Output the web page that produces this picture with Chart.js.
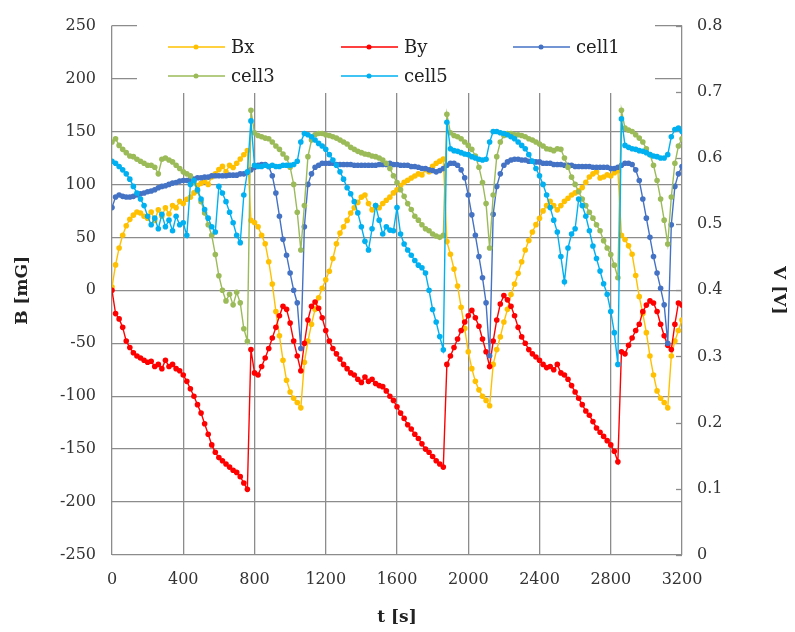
<!DOCTYPE html>
<html>
<head>
<meta charset="utf-8">
<script src="https://cdn.jsdelivr.net/npm/chart.js@4.4.1/dist/chart.umd.min.js"></script>
<style>
  html, body { margin: 0; padding: 0; background: #fff; }
  canvas { display: block; }
</style>
</head>
<body>
<canvas id="chart" width="795" height="632"></canvas>
<script>
// time [s]
const t = [
  0, 20, 40, 60, 80, 100, 120, 140, 160, 180,
  200, 220, 240, 260, 280, 300, 320, 340, 360, 380,
  400, 420, 440, 460, 480, 500, 520, 540, 560, 580,
  600, 620, 640, 660, 680, 700, 720, 740, 760, 780,
  800, 820, 840, 860, 880, 900, 920, 940, 960, 980,
  1000, 1020, 1040, 1060, 1080, 1100, 1120, 1140, 1160, 1180,
  1200, 1220, 1240, 1260, 1280, 1300, 1320, 1340, 1360, 1380,
  1400, 1420, 1440, 1460, 1480, 1500, 1520, 1540, 1560, 1580,
  1600, 1620, 1640, 1660, 1680, 1700, 1720, 1740, 1760, 1780,
  1800, 1820, 1840, 1860, 1880, 1900, 1920, 1940, 1960, 1980,
  2000, 2020, 2040, 2060, 2080, 2100, 2120, 2140, 2160, 2180,
  2200, 2220, 2240, 2260, 2280, 2300, 2320, 2340, 2360, 2380,
  2400, 2420, 2440, 2460, 2480, 2500, 2520, 2540, 2560, 2580,
  2600, 2620, 2640, 2660, 2680, 2700, 2720, 2740, 2760, 2780,
  2800, 2820, 2840, 2860, 2880, 2900, 2920, 2940, 2960, 2980,
  3000, 3020, 3040, 3060, 3080, 3100, 3120, 3140, 3160, 3180,
  3200
];

// B [mG]
const bx = [
  3, 24, 40, 52, 61, 67, 71, 74, 73, 70,
  68, 74, 66, 76, 70, 78, 72, 80, 78, 84,
  82, 86, 88, 92, 99, 101, 103, 100, 107, 110,
  114, 117, 112, 118, 116, 120, 124, 128, 132, 66,
  64, 60, 52, 44, 27, 6, -20, -43, -66, -85,
  -96, -102, -106, -111, -68, -48, -32, -18, -7, 2,
  10, 18, 30, 44, 54, 60, 66, 73, 78, 83,
  88, 90, 82, 76, 80, 78, 82, 85, 88, 92,
  95, 99, 102, 104, 106, 108, 110, 109, 114, 112,
  117, 120, 122, 124, 46, 34, 20, 4, -16, -36,
  -58, -74, -86, -94, -100, -104, -109, -70, -56, -44,
  -30, -18, -4, 6, 16, 27, 38, 47, 55, 62,
  68, 75, 80, 84, 80, 76, 80, 84, 87, 90,
  92, 94, 97, 102, 107, 110, 112, 106, 107, 109,
  108, 111, 113, 52, 48, 42, 34, 14, -6, -22,
  -40, -62, -80, -95, -102, -106, -111, -62, -48, -38,
  -28
];

const by = [
  0, -22, -27, -35, -48, -54, -59, -62, -64, -66,
  -68, -67, -72, -70, -74, -66, -72, -70, -74, -76,
  -80, -86, -93, -100, -108, -116, -126, -136, -146, -153,
  -158, -161, -164, -167, -170, -172, -176, -182, -188, -56,
  -78, -80, -72, -64, -55, -45, -35, -24, -15, -18,
  -31, -48, -62, -76, -50, -28, -15, -11, -17, -26,
  -38, -48, -55, -60, -65, -70, -74, -78, -80, -84,
  -87, -82, -86, -84, -88, -90, -91, -95, -100, -104,
  -110, -116, -121, -127, -131, -136, -140, -145, -150, -153,
  -157, -161, -164, -167, -70, -62, -54, -46, -38, -30,
  -24, -19, -26, -34, -46, -58, -72, -48, -28, -13,
  -5, -9, -15, -24, -35, -44, -50, -56, -60, -63,
  -66, -70, -73, -72, -75, -70, -78, -80, -84, -90,
  -96, -102, -108, -114, -118, -124, -130, -134, -138, -142,
  -146, -152, -162, -58, -60, -52, -45, -38, -32, -20,
  -14, -10, -12, -20, -32, -43, -52, -56, -32, -12,
  -14
];

// V [V]
const cell1 = [
  0.525, 0.541, 0.544, 0.542, 0.541, 0.541, 0.542, 0.544, 0.546, 0.547,
  0.549, 0.550, 0.552, 0.555, 0.557, 0.558, 0.560, 0.562, 0.563, 0.565,
  0.566, 0.566, 0.568, 0.568, 0.570, 0.570, 0.571, 0.571, 0.573, 0.573,
  0.573, 0.573, 0.573, 0.574, 0.574, 0.574, 0.576, 0.576, 0.578, 0.582,
  0.586, 0.589, 0.590, 0.590, 0.587, 0.573, 0.547, 0.512, 0.477, 0.453,
  0.426, 0.400, 0.381, 0.312, 0.496, 0.560, 0.576, 0.586, 0.589, 0.592,
  0.592, 0.592, 0.592, 0.590, 0.590, 0.590, 0.590, 0.590, 0.589, 0.589,
  0.589, 0.589, 0.589, 0.589, 0.589, 0.590, 0.590, 0.590, 0.592, 0.590,
  0.590, 0.589, 0.589, 0.589, 0.587, 0.587, 0.586, 0.584, 0.584, 0.582,
  0.581, 0.579, 0.581, 0.584, 0.589, 0.592, 0.592, 0.589, 0.582, 0.570,
  0.544, 0.514, 0.483, 0.451, 0.419, 0.381, 0.301, 0.515, 0.557, 0.576,
  0.589, 0.594, 0.597, 0.598, 0.598, 0.597, 0.597, 0.595, 0.595, 0.594,
  0.594, 0.592, 0.592, 0.592, 0.590, 0.590, 0.590, 0.589, 0.589, 0.589,
  0.587, 0.587, 0.587, 0.587, 0.587, 0.586, 0.586, 0.586, 0.586, 0.586,
  0.584, 0.584, 0.586, 0.589, 0.592, 0.592, 0.590, 0.582, 0.566, 0.538,
  0.509, 0.480, 0.451, 0.426, 0.403, 0.378, 0.320, 0.499, 0.557, 0.576,
  0.587
];

const cell3 = [
  0.624, 0.629, 0.619, 0.613, 0.608, 0.603, 0.602, 0.598, 0.595, 0.592,
  0.589, 0.589, 0.586, 0.576, 0.598, 0.600, 0.597, 0.594, 0.589, 0.584,
  0.579, 0.576, 0.573, 0.563, 0.550, 0.534, 0.517, 0.499, 0.483, 0.454,
  0.422, 0.400, 0.384, 0.394, 0.378, 0.397, 0.381, 0.342, 0.323, 0.672,
  0.638, 0.634, 0.632, 0.630, 0.629, 0.624, 0.618, 0.613, 0.606, 0.600,
  0.586, 0.560, 0.518, 0.461, 0.528, 0.602, 0.627, 0.635, 0.637, 0.637,
  0.635, 0.634, 0.632, 0.630, 0.627, 0.624, 0.621, 0.616, 0.613, 0.610,
  0.608, 0.606, 0.605, 0.603, 0.602, 0.600, 0.597, 0.592, 0.584, 0.573,
  0.563, 0.552, 0.542, 0.531, 0.522, 0.512, 0.506, 0.499, 0.493, 0.490,
  0.485, 0.482, 0.480, 0.483, 0.666, 0.638, 0.634, 0.632, 0.629, 0.624,
  0.619, 0.613, 0.603, 0.586, 0.563, 0.531, 0.464, 0.544, 0.602, 0.624,
  0.634, 0.637, 0.637, 0.635, 0.635, 0.634, 0.632, 0.629, 0.627, 0.624,
  0.621, 0.618, 0.614, 0.613, 0.611, 0.614, 0.613, 0.600, 0.586, 0.571,
  0.560, 0.549, 0.538, 0.528, 0.518, 0.509, 0.499, 0.490, 0.475, 0.464,
  0.454, 0.438, 0.419, 0.672, 0.645, 0.642, 0.640, 0.635, 0.630, 0.624,
  0.614, 0.605, 0.589, 0.566, 0.538, 0.506, 0.470, 0.541, 0.592, 0.618,
  0.629
];

const cell5 = [
  0.595, 0.592, 0.587, 0.582, 0.576, 0.568, 0.557, 0.547, 0.538, 0.528,
  0.512, 0.499, 0.509, 0.493, 0.515, 0.496, 0.506, 0.490, 0.512, 0.499,
  0.502, 0.483, 0.560, 0.566, 0.552, 0.538, 0.522, 0.509, 0.496, 0.488,
  0.557, 0.547, 0.534, 0.518, 0.502, 0.483, 0.472, 0.544, 0.579, 0.656,
  0.589, 0.587, 0.587, 0.589, 0.587, 0.589, 0.587, 0.587, 0.589, 0.589,
  0.589, 0.590, 0.595, 0.624, 0.637, 0.635, 0.632, 0.627, 0.622, 0.618,
  0.613, 0.605, 0.597, 0.589, 0.579, 0.568, 0.555, 0.546, 0.534, 0.517,
  0.496, 0.474, 0.461, 0.493, 0.528, 0.506, 0.485, 0.496, 0.491, 0.490,
  0.525, 0.485, 0.470, 0.461, 0.453, 0.445, 0.438, 0.434, 0.426, 0.400,
  0.371, 0.352, 0.330, 0.310, 0.654, 0.614, 0.611, 0.610, 0.608, 0.606,
  0.605, 0.602, 0.600, 0.598, 0.597, 0.598, 0.624, 0.640, 0.640, 0.638,
  0.637, 0.635, 0.632, 0.629, 0.624, 0.619, 0.614, 0.605, 0.595, 0.584,
  0.573, 0.560, 0.544, 0.525, 0.506, 0.488, 0.451, 0.413, 0.464, 0.485,
  0.493, 0.538, 0.528, 0.512, 0.490, 0.467, 0.448, 0.429, 0.410, 0.394,
  0.368, 0.336, 0.288, 0.659, 0.619, 0.616, 0.614, 0.613, 0.611, 0.610,
  0.608, 0.605, 0.603, 0.602, 0.600, 0.600, 0.605, 0.632, 0.643, 0.645,
  0.640
];

const FONT = '"DejaVu Serif", "Liberation Serif", serif';
const GRID = '#8c8c8c';
const TEXT = '#333333';

function pts(vals) {
  return t.map((x, i) => ({ x: x, y: vals[i] }));
}

function series(label, vals, color, axis, order) {
  return {
    label: label,
    data: pts(vals),
    borderColor: color,
    backgroundColor: color,
    borderWidth: 1.4,
    pointRadius: 2.8,
    pointHoverRadius: 2.8,
    pointBorderWidth: 0,
    tension: 0,
    yAxisID: axis,
    order: order
  };
}

// legend drawn inside the plot, on a white box, plus inner ticks of the right axis
const insideLegend = {
  id: 'insideLegend',
  beforeDatasetsDraw(chart) {
    const ctx = chart.ctx;
    const area = chart.chartArea;
    ctx.save();
    ctx.fillStyle = '#ffffff';
    ctx.fillRect(137, 23, 518, 70);
    const cols = [168, 341, 513];
    const rows = [47, 76];
    ctx.font = '18px ' + FONT;
    ctx.textBaseline = 'middle';
    chart.data.datasets.forEach((ds, i) => {
      const x = cols[i % 3];
      const y = rows[Math.floor(i / 3)];
      ctx.strokeStyle = ds.borderColor;
      ctx.lineWidth = 1.5;
      ctx.beginPath();
      ctx.moveTo(x, y);
      ctx.lineTo(x + 57, y);
      ctx.stroke();
      ctx.fillStyle = ds.borderColor;
      ctx.beginPath();
      ctx.arc(x + 28, y, 2.5, 0, Math.PI * 2);
      ctx.fill();
      ctx.fillStyle = '#222222';
      ctx.fillText(ds.label, x + 63, y + 1);
    });
    const y2 = chart.scales.y2;
    ctx.strokeStyle = GRID;
    ctx.lineWidth = 1.3;
    y2.ticks.forEach(tk => {
      const py = Math.round(y2.getPixelForValue(tk.value)) + 0.5;
      ctx.beginPath();
      ctx.moveTo(area.right - 6, py);
      ctx.lineTo(area.right, py);
      ctx.stroke();
    });
    ctx.restore();
  }
};

const tickFont = { family: FONT, size: 16 };
const titleFont = { family: FONT, size: 17, weight: 'bold' };

new Chart(document.getElementById('chart').getContext('2d'), {
  type: 'line',
  data: {
    datasets: [
      series('Bx', bx, '#FFC000', 'y', 5),
      series('By', by, '#FF0000', 'y', 4),
      series('cell1', cell1, '#4472C4', 'y2', 3),
      series('cell3', cell3, '#9BBB59', 'y2', 2),
      series('cell5', cell5, '#00B0F0', 'y2', 1)
    ]
  },
  options: {
    responsive: false,
    animation: false,
    layout: { padding: { top: 19, left: 0, right: 0, bottom: 0 } },
    plugins: {
      legend: { display: false },
      tooltip: { enabled: false }
    },
    scales: {
      x: {
        type: 'linear',
        min: 0,
        max: 3200,
        ticks: { stepSize: 400, autoSkip: false, maxRotation: 0, padding: 15, font: tickFont, color: TEXT,
                 callback: v => String(v) },
        grid: { color: GRID, lineWidth: 1.3, drawTicks: false },
        border: { display: false },
        title: { display: true, text: 't [s]', font: titleFont, color: '#222', padding: { top: 0, bottom: 4 } },
        afterFit(s) { s.height = 77; }
      },
      y: {
        position: 'left',
        min: -250,
        max: 250,
        ticks: { stepSize: 50, autoSkip: false, padding: 16, font: tickFont, color: TEXT,
                 callback: v => String(v) },
        grid: { color: GRID, lineWidth: 1.3, drawTicks: false },
        border: { display: false },
        title: { display: true, text: 'B [mG]', font: titleFont, color: '#222', padding: { top: 12, bottom: 0 } },
        afterFit(s) { s.width = 112; }
      },
      y2: {
        position: 'right',
        min: 0,
        max: 0.8,
        ticks: { stepSize: 0.1, autoSkip: false, padding: 15, font: tickFont, color: TEXT,
                 callback: v => String(Math.round(v * 10) / 10) },
        grid: { drawOnChartArea: false, drawTicks: false },
        border: { display: false },
        title: { display: true, text: 'V [V]', font: titleFont, color: '#222', padding: { top: 6, bottom: 0 } },
        afterFit(s) { s.width = 113; }
      }
    }
  },
  plugins: [insideLegend]
});
</script>
</body>
</html>
